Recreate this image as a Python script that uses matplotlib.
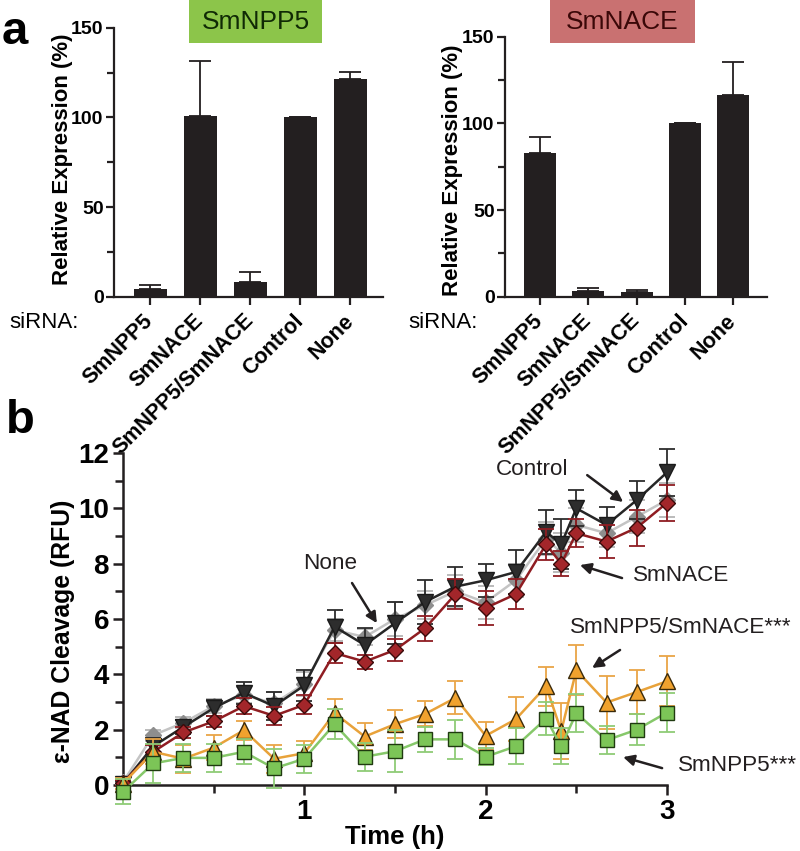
import numpy as np
import matplotlib
matplotlib.use("Agg")
import matplotlib.pyplot as plt
from matplotlib.patches import Rectangle
from matplotlib.ticker import MultipleLocator

plt.rcParams["font.family"] = ["Liberation Sans", "DejaVu Sans"]

# ---------------------------------------------------------------------------
# Panel a: knockdown efficiency (relative expression, %)
# ---------------------------------------------------------------------------
SIRNA = ["SmNPP5", "SmNACE", "SmNPP5/SmNACE", "Control", "None"]

NPP5_EXPR = [4.5, 100.5, 8.0, 100.0, 121.5]
NPP5_ERR = [2.0, 31.0, 6.0, 0.0, 3.7]

NACE_EXPR = [82.7, 3.5, 2.9, 100.0, 116.2]
NACE_ERR = [9.6, 1.3, 0.8, 0.0, 19.2]

# ---------------------------------------------------------------------------
# Panel b: e-NAD cleavage time course (RFU)
# ---------------------------------------------------------------------------
TIME_MIN = [0, 10, 20, 30, 40, 50, 60, 70, 80, 90, 100, 110, 120, 130, 140,
            145, 150, 160, 170, 180]

CONTROL = [0.05, 1.4, 2.1, 2.78, 3.33, 2.85, 3.6, 5.72, 5.06, 5.85, 6.62, 7.17,
           7.4, 7.7, 9.15, 8.7, 10.0, 9.4, 10.3, 11.3]
CONTROL_ERR = [0.1, 0.3, 0.25, 0.3, 0.4, 0.5, 0.55, 0.6, 0.6, 0.75, 0.8, 0.7,
               0.6, 0.8, 0.8, 0.9, 0.65, 0.65, 0.7, 0.85]

NONE = [0.1, 1.8, 2.25, 2.85, 3.25, 2.95, 3.65, 5.6, 5.35, 6.0, 6.5, 7.0,
        6.6, 7.4, 8.9, 8.4, 9.4, 9.1, 9.7, 10.3]
NONE_ERR = [0.1, 0.2, 0.2, 0.25, 0.3, 0.4, 0.45, 0.4, 0.3, 0.6, 0.5, 0.6,
            0.6, 0.6, 0.6, 0.7, 0.6, 0.5, 0.6, 0.6]

NACE = [0.08, 1.2, 1.9, 2.3, 2.85, 2.5, 2.9, 4.77, 4.46, 4.88, 5.67, 6.9,
        6.4, 6.9, 8.7, 8.0, 9.1, 8.8, 9.3, 10.2]
NACE_KD_ERR = [0.1, 0.25, 0.2, 0.2, 0.3, 0.33, 0.35, 0.35, 0.25, 0.4, 0.45,
               0.55, 0.6, 0.55, 0.55, 0.45, 0.5, 0.6, 0.65, 0.65]

DOUBLE = [0.05, 1.2, 0.95, 1.35, 1.98, 0.95, 1.15, 2.6, 1.75, 2.2, 2.57, 3.15,
          1.78, 2.38, 3.57, 1.95, 4.15, 2.98, 3.36, 3.75]
DOUBLE_ERR = [0.2, 0.45, 0.5, 0.45, 0.35, 0.5, 0.45, 0.5, 0.5, 0.5, 0.45, 0.6,
              0.5, 0.8, 0.7, 1.0, 0.9, 0.95, 0.8, 0.9]

NPP5 = [-0.25, 0.78, 0.98, 0.98, 1.2, 0.6, 0.95, 2.2, 1.02, 1.22, 1.65, 1.65,
        1.02, 1.4, 2.4, 1.4, 2.6, 1.62, 2.0, 2.62]
NPP5_KD_ERR = [0.45, 0.7, 0.5, 0.5, 0.45, 0.7, 0.5, 0.55, 0.5, 0.75, 0.45,
               0.7, 0.3, 0.65, 0.6, 0.65, 0.7, 0.5, 0.55, 0.7]

W, H = 800, 851
INK = "#231f20"


def fig_rect(x0, y0, x1, y1):
    """pixel box (top-left origin) -> figure fraction rect"""
    return [x0 / W, 1 - y1 / H, (x1 - x0) / W, (y1 - y0) / H]


fig = plt.figure(figsize=(8, 8.51), dpi=100)

# ---------------------------------------------------------------------------
# bar panels
# ---------------------------------------------------------------------------

def bar_panel(box, vals, errs, xmin, xmax, label_x, label_y):
    ax = fig.add_axes(fig_rect(*box))
    x = np.arange(len(SIRNA))
    ax.bar(x, vals, width=0.66, color=INK, zorder=2)
    ax.errorbar(x, vals, yerr=[np.zeros(len(errs)), errs], fmt="none",
                ecolor=INK, elinewidth=1.3, capsize=8, capthick=1.3, zorder=1)
    ax.set_xlim(xmin, xmax)
    ax.set_ylim(0, 150)
    ax.yaxis.set_major_locator(MultipleLocator(50))
    ax.yaxis.set_minor_locator(MultipleLocator(25))
    for s in ("top", "right"):
        ax.spines[s].set_visible(False)
    for s in ("left", "bottom"):
        ax.spines[s].set_linewidth(1.6)
        ax.spines[s].set_color(INK)
    ax.tick_params(axis="both", which="major", length=6, width=1.6, color=INK)
    ax.tick_params(axis="y", which="minor", length=5, width=1.6, color=INK)
    ax.set_xticks(x)
    ax.set_xticklabels(SIRNA, rotation=45, ha="right", va="center",
                       rotation_mode="anchor", fontsize=15.5, fontweight="bold")
    for lab in ax.get_yticklabels():
        lab.set_fontsize(14)
        lab.set_fontweight("bold")
    ax.tick_params(axis="x", pad=9)
    ax.tick_params(axis="y", pad=1.5)
    ax.set_ylabel("Relative Expression (%)", fontsize=16, fontweight="bold")
    ax.yaxis.set_label_coords(label_x / W, 1 - label_y / H,
                              transform=fig.transFigure)
    return ax


ax1 = bar_panel((114, 27.7, 383, 296.7), NPP5_EXPR, NPP5_ERR, -0.72, 4.65,
                73, 159)
ax2 = bar_panel((505, 36.7, 766.7, 296.7), NACE_EXPR, NACE_ERR, -0.72, 4.69,
                463, 170)

# coloured gene boxes on top
for (x0, x1, fc, tc, txt) in [(189, 322, "#8cc54a", "#102a05", "SmNPP5"),
                              (550, 695, "#c97171", "#3a0808", "SmNACE")]:
    fig.patches.append(Rectangle((x0 / W, 1 - 43 / H), (x1 - x0) / W, 43 / H,
                                 transform=fig.transFigure, facecolor=fc,
                                 edgecolor="none", zorder=0))
    fig.text((x0 + x1) / 2 / W, 1 - 22 / H, txt, ha="center", va="center",
             fontsize=19, color=tc)

fig.text(9 / W, 1 - 322 / H, "siRNA:", fontsize=16, ha="left", va="center")
fig.text(408 / W, 1 - 322 / H, "siRNA:", fontsize=16, ha="left", va="center")

fig.text(2 / W, 1 - 44 / H, "a", fontsize=34, fontweight="bold", va="baseline")
fig.text(6 / W, 1 - 433 / H, "b", fontsize=34, fontweight="bold", va="baseline")

# ---------------------------------------------------------------------------
# time course panel
# ---------------------------------------------------------------------------
t = np.array(TIME_MIN) / 60.0

# axes placed so that x 0..3 -> px 123..667, y 0..12 -> px 785..453
px_per_h = (667 - 123) / 3
px_per_u = (785 - 453) / 12
x_lo, x_hi = -0.1, 3.1
y_lo, y_hi = -1.0, 12.3
axb = fig.add_axes(fig_rect(123 + x_lo * px_per_h, 785 - y_hi * px_per_u,
                            123 + x_hi * px_per_h, 785 - y_lo * px_per_u))
axb.set_xlim(x_lo, x_hi)
axb.set_ylim(y_lo, y_hi)
axb.patch.set_alpha(0)

series = [
    # values, errors, marker, size, face, edge, line, ebar
    (NONE, NONE_ERR, "D", 8, "#8e8e8e", "#8e8e8e", "#c4c4c4", "#b5b5b5"),
    (CONTROL, CONTROL_ERR, "v", 11, "#2d2d2d", "#1a1a1a", "#262626", "#2d2d2d"),
    (NACE, NACE_KD_ERR, "D", 8, "#a3262a", "#3a0a0a", "#8f1d22", "#8f1d22"),
    (DOUBLE, DOUBLE_ERR, "^", 11, "#f0a22e", "#3a2a0a", "#e8a23a", "#e9a547"),
    (NPP5, NPP5_KD_ERR, "s", 10, "#7cc557", "#1f3a10", "#86c86a", "#8fcb76"),
]
for i, (v, e, m, ms, fc, ec, lc, ebc) in enumerate(series):
    axb.errorbar(t, v, yerr=e, fmt="none", ecolor=ebc, elinewidth=1.3,
                 capsize=5.5, capthick=1.3, zorder=2 + i * 2, clip_on=False)
    axb.plot(t, v, color=lc, lw=1.8, marker=m, markersize=ms,
             markerfacecolor=fc, markeredgecolor=ec, markeredgewidth=1.0,
             zorder=3 + i * 2, clip_on=False)

for s in ("top", "right"):
    axb.spines[s].set_visible(False)
axb.spines["left"].set_position(("data", 0))
axb.spines["bottom"].set_position(("data", 0))
axb.spines["left"].set_bounds(0, 12)
axb.spines["bottom"].set_bounds(0, 3)
for s in ("left", "bottom"):
    axb.spines[s].set_linewidth(1.8)
    axb.spines[s].set_color(INK)

axb.set_xticks([1, 2, 3])
axb.set_xticks([0.5, 1.5, 2.5], minor=True)
axb.set_yticks(np.arange(0, 13, 2))
axb.set_yticks(np.arange(1, 12, 2), minor=True)
axb.tick_params(axis="both", which="major", length=7, width=1.8, color=INK,
                labelsize=20, pad=3)
axb.tick_params(axis="both", which="minor", length=6, width=1.8, color=INK)
for lab in axb.get_xticklabels() + axb.get_yticklabels():
    lab.set_fontweight("bold")

axb.set_xlabel("Time (h)", fontsize=18.5, fontweight="bold", labelpad=0)
axb.set_ylabel("\u03b5-NAD Cleavage (RFU)", fontsize=17.8, fontweight="bold")
axb.yaxis.set_label_coords(75 / W, 1 - 631 / H, transform=fig.transFigure)

# annotations
arrow = dict(arrowstyle="-|>", lw=1.8, color=INK, mutation_scale=16,
             shrinkA=0, shrinkB=0)
labels = [
    ("None", 1.14, 8.02, "center", (1.263, 7.3), (1.40, 5.85)),
    ("Control", 2.256, 11.42, "center", (2.56, 11.2), (2.758, 10.23)),
    ("SmNACE", 2.813, 7.59, "left", (2.752, 7.48), (2.52, 7.95)),
    ("SmNPP5/SmNACE***", 2.466, 5.71, "left", (2.741, 4.88), (2.587, 4.23)),
    ("SmNPP5***", 3.061, 0.72, "left", (2.973, 0.61), (2.758, 1.01)),
]
for txt, tx, ty, ha, tail, head in labels:
    axb.text(tx, ty, txt, fontsize=16.2, ha=ha, va="center", color=INK,
             clip_on=False)
    axb.annotate("", xy=head, xytext=tail, arrowprops=arrow,
                 annotation_clip=False)

fig.savefig("out.png", dpi=100)
